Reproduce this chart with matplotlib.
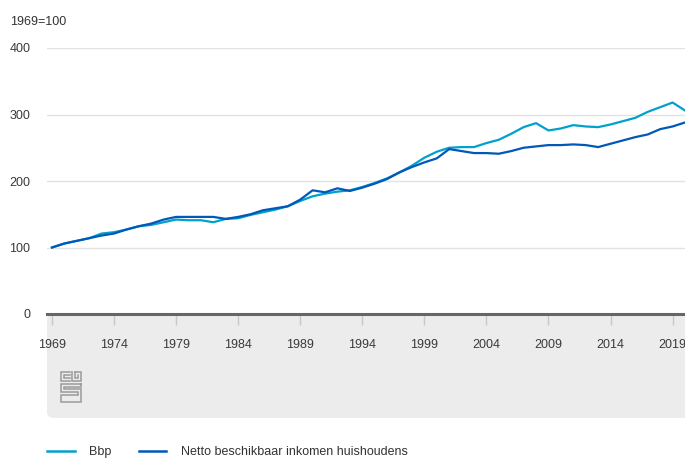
import matplotlib
matplotlib.use('Agg')
import matplotlib.pyplot as plt
from matplotlib.patches import FancyBboxPatch
from matplotlib.lines import Line2D

plt.rcParams['font.family'] = ['Liberation Sans', 'DejaVu Sans']

# index 1969=100
years = list(range(1969, 2021))
bbp = [100, 106, 110, 114, 121, 123, 127, 132, 134, 138,
       142, 141, 141, 138, 143, 144, 149, 153, 157, 162,
       170, 177, 181, 184, 186, 191, 197, 204, 213, 223,
       235, 244, 250, 251, 251, 257, 262, 271, 281, 287,
       276, 279, 284, 282, 281, 285, 290, 295, 304, 311,
       318, 306]
netto = [100, 106, 110, 114, 118, 121, 127, 132, 136, 142,
         146, 146, 146, 146, 143, 146, 150, 156, 159, 162,
         172, 186, 183, 189, 185, 190, 196, 203, 213, 221,
         228, 234, 248, 245, 242, 242, 241, 245, 250, 252,
         254, 254, 255, 254, 251, 256, 261, 266, 270, 278,
         282, 288]
x_ticks = list(range(1969, 2020, 5))
y_ticks = [0, 100, 200, 300, 400]
labels = ['Bbp', 'Netto beschikbaar inkomen huishoudens']

c_bbp = '#00a1cd'
c_netto = '#0058b8'

W, H = 685, 459
fig = plt.figure(figsize=(W / 100, H / 100), dpi=100)

# grijs vlak onder de x-as (pixels 314..418)
panel = FancyBboxPatch((47 / W, (H - 418) / H), (W - 47) / W + 0.02, 104 / H,
                       boxstyle='round,pad=0,rounding_size=0.012',
                       transform=fig.transFigure, facecolor='#ececec',
                       edgecolor='none', zorder=-5)
fig.patches.append(panel)

ax = fig.add_axes([47 / W, (H - 314) / H, (W - 47) / W, (314 - 48) / H])
ax.set_facecolor('none')
ax.plot(years, bbp, color=c_bbp, lw=1.6, label=labels[0], zorder=3)
ax.plot(years, netto, color=c_netto, lw=1.6, label=labels[1], zorder=4)

ax.set_xlim(1968.6, 2020.0)
ax.set_ylim(0, 400)
ax.set_yticks(y_ticks)
ax.set_xticks(x_ticks)
ax.set_xticklabels([str(y) for y in x_ticks])
for v in y_ticks[1:]:
    ax.axhline(v, color='#e2e2e2', lw=1, zorder=1)
ax.axhline(0, color='#666666', lw=2.2, zorder=5, clip_on=False)

for s in ax.spines.values():
    s.set_visible(False)
ax.tick_params(axis='y', length=0, pad=12, labelsize=9, labelcolor='#3a3a3a')
ax.tick_params(axis='x', length=8, width=1, color='#c8c8c8', pad=10,
               labelsize=9, labelcolor='#3a3a3a')

fig.text(10 / W, (H - 22) / H, '1969=100', fontsize=9, color='#333333',
         ha='left', va='center')

# cbs logo (vereenvoudigd)
logo = fig.add_axes([60 / W, (H - 403) / H, 22 / W, 32 / H])
logo.set_xlim(0, 10)
logo.set_ylim(0, 15)
logo.axis('off')
lc = '#9a9a9a'
paths = [
    ([4.6, 0.3, 0.3, 4.6], [14.6, 14.6, 10.2, 10.2]),
    ([4.6, 1.8, 1.8, 4.6], [13.2, 13.2, 11.6, 11.6]),
    ([5.6, 5.6, 9.7, 9.7, 7.0], [15.8, 10.2, 10.2, 14.6, 14.6]),
    ([7.0, 7.0, 8.3, 8.3], [14.6, 11.6, 11.6, 13.2]),
    ([9.7, 0.3, 0.3, 8.3, 8.3, 0.3, 0.3, 9.7, 9.7, 1.8, 1.8, 9.7, 9.7],
     [9.0, 9.0, 5.0, 5.0, 3.6, 3.6, 0.3, 0.3, 6.4, 6.4, 7.6, 7.6, 9.0]),
]
for px, py in paths:
    logo.plot(px, py, color=lc, lw=1.1, solid_joinstyle='miter')

handles = [Line2D([], [], color=c_bbp, lw=1.8), Line2D([], [], color=c_netto, lw=1.8)]
fig.legend(handles, labels, loc='center left', bbox_to_anchor=(47 / W, (H - 452) / H),
           ncol=2, frameon=False, fontsize=9, handlelength=2.2, handletextpad=1.15,
           columnspacing=2.2, borderpad=0, borderaxespad=0,
           labelcolor='#333333')

fig.savefig('out.png', dpi=100)
